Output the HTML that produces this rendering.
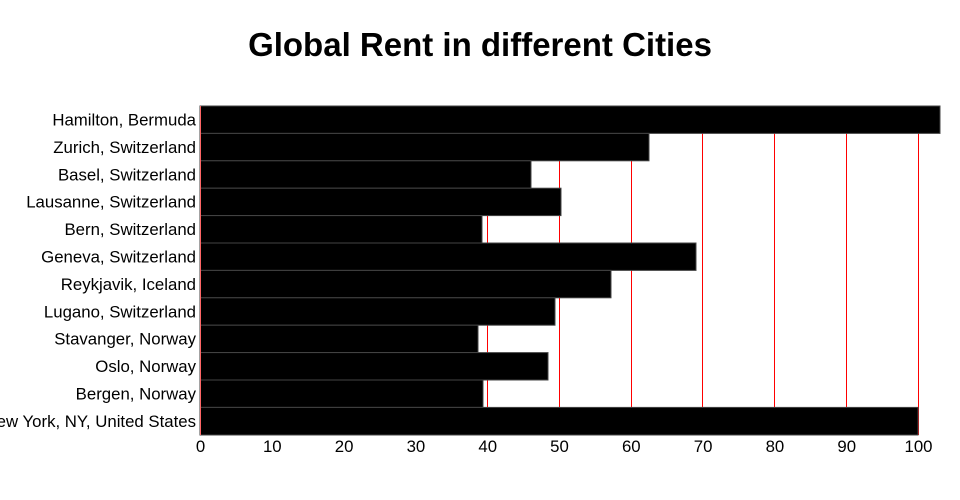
<!DOCTYPE html>
<html><head><meta charset="utf-8"><style>
html,body{margin:0;padding:0;background:#fff;}
svg{display:block;font-family:"Liberation Sans",sans-serif;}
</style></head><body>
<svg width="960" height="500" viewBox="0 0 960 500">
<text x="480" y="56" text-anchor="middle" font-size="33" font-weight="bold">Global Rent in different Cities</text>
<g fill="#ff0000">
<rect x="200" y="106" width="1" height="329"/>
<rect x="272" y="106" width="1" height="329"/>
<rect x="344" y="106" width="1" height="329"/>
<rect x="415" y="106" width="1" height="329"/>
<rect x="487" y="106" width="1" height="329"/>
<rect x="559" y="106" width="1" height="329"/>
<rect x="631" y="106" width="1" height="329"/>
<rect x="702" y="106" width="1" height="329"/>
<rect x="774" y="106" width="1" height="329"/>
<rect x="846" y="106" width="1" height="329"/>
<rect x="918" y="106" width="1" height="329"/>
</g>
<g fill="#000" stroke="#444" stroke-width="1">
<rect x="200" y="106" width="740" height="27.4"/>
<rect x="200" y="133.4" width="449" height="27.4"/>
<rect x="200" y="160.8" width="331" height="27.4"/>
<rect x="200" y="188.2" width="361" height="27.4"/>
<rect x="200" y="215.6" width="282" height="27.4"/>
<rect x="200" y="243" width="496" height="27.4"/>
<rect x="200" y="270.4" width="411" height="27.4"/>
<rect x="200" y="297.8" width="355" height="27.4"/>
<rect x="200" y="325.2" width="278" height="27.4"/>
<rect x="200" y="352.6" width="348" height="27.4"/>
<rect x="200" y="380" width="283" height="27.4"/>
<rect x="200" y="407.4" width="718" height="27.6"/>
</g>
<rect x="200" y="106" width="1" height="329" fill="#ff6666"/>
<g font-size="16.8" text-anchor="end" fill="#000">
<text x="196" y="125.5">Hamilton, Bermuda</text>
<text x="196" y="152.9">Zurich, Switzerland</text>
<text x="196" y="180.3">Basel, Switzerland</text>
<text x="196" y="207.7">Lausanne, Switzerland</text>
<text x="196" y="235.1">Bern, Switzerland</text>
<text x="196" y="262.5">Geneva, Switzerland</text>
<text x="196" y="289.9">Reykjavik, Iceland</text>
<text x="196" y="317.3">Lugano, Switzerland</text>
<text x="196" y="344.7">Stavanger, Norway</text>
<text x="196" y="372.1">Oslo, Norway</text>
<text x="196" y="399.5">Bergen, Norway</text>
<text x="196" y="426.9">New York, NY, United States</text>
</g>
<g font-size="16.8" text-anchor="middle" fill="#000">
<text x="200.5" y="452">0</text>
<text x="272.3" y="452">10</text>
<text x="344.1" y="452">20</text>
<text x="415.9" y="452">30</text>
<text x="487.7" y="452">40</text>
<text x="559.5" y="452">50</text>
<text x="631.3" y="452">60</text>
<text x="703.1" y="452">70</text>
<text x="774.9" y="452">80</text>
<text x="846.7" y="452">90</text>
<text x="918.5" y="452">100</text>
</g>
</svg>
</body></html>
